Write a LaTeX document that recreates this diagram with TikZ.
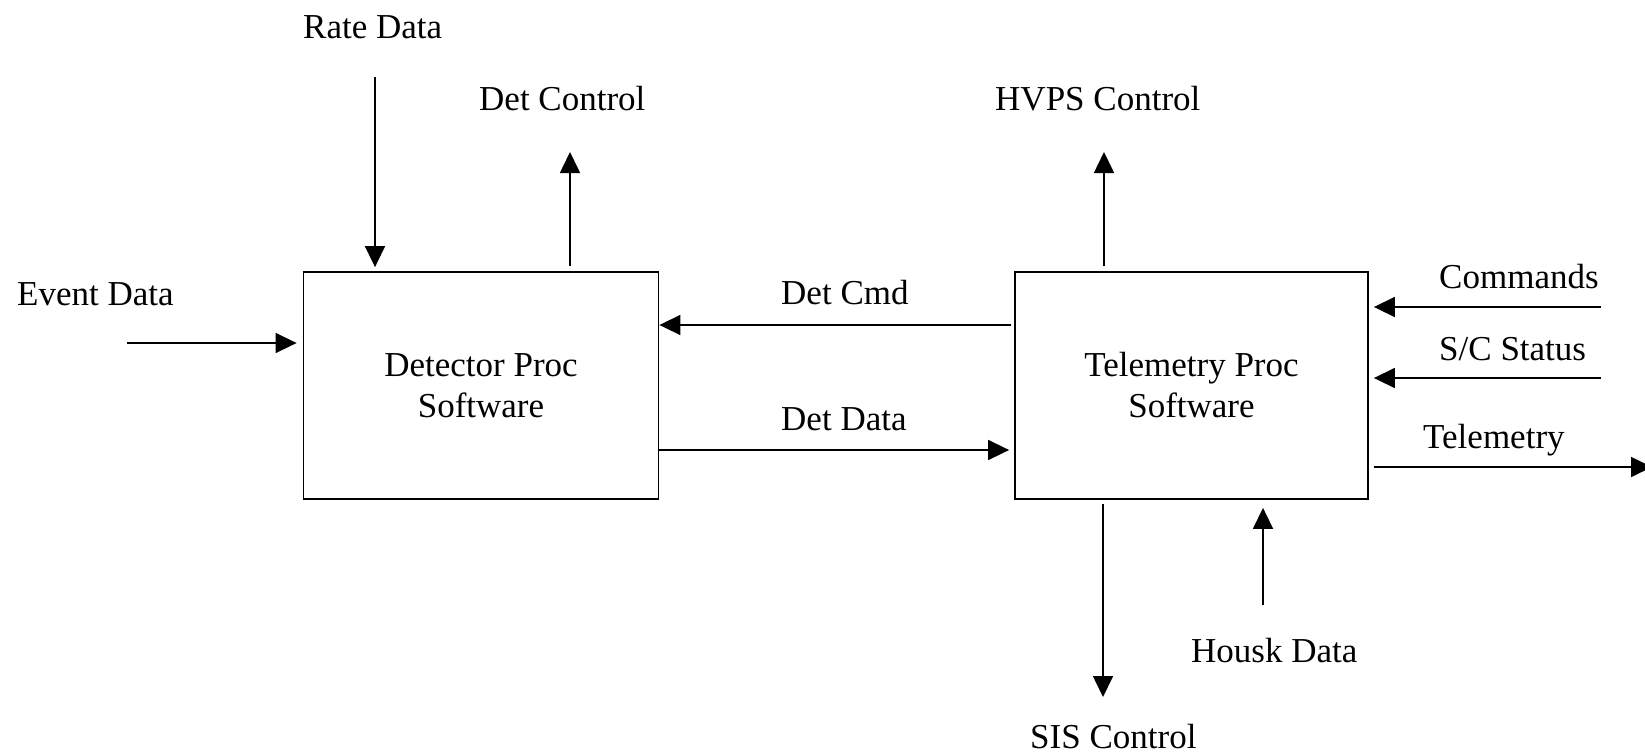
\documentclass[tikz,border=0pt]{standalone}
\usepackage{fontspec}
\setmainfont{Liberation Serif}
\usetikzlibrary{arrows.meta}
\begin{document}
\begin{tikzpicture}[x=1pt,y=-1pt,
  every node/.style={font=\fontsize{35}{41}\selectfont},
  lbl/.style={anchor=base west, inner sep=0pt},
  procbox/.style={draw, line width=1.8pt, minimum width=355pt, minimum height=227pt, inner sep=0pt, align=center},
  arr/.style={line width=1.6pt, -{Triangle[length=21pt,width=20pt]}}]
\useasboundingbox (0,0) rectangle (1645,753);
% boxes
\node[procbox] (b1) at (481,385.5) {Detector Proc\\Software};
\node[procbox, minimum width=353pt] (b2) at (1191.5,385.5) {Telemetry Proc\\Software};
% labels
\node[lbl] (lrate) at (303,38) {Rate Data};
\node[lbl] (ldetc) at (479,110) {Det Control};
\node[lbl] (levent) at (17,305) {Event Data};
\node[lbl] (lhvps) at (995,110) {HVPS Control};
\node[lbl] (lcmd) at (781,304) {Det Cmd};
\node[lbl] (ldata) at (781,430) {Det Data};
\node[lbl] (lcomm) at (1439,288) {Commands};
\node[lbl] (lsc) at (1439,360) {S/C Status};
\node[lbl] (ltel) at (1423,448) {Telemetry};
\node[lbl] (lhousk) at (1191,662) {Housk Data};
\node[lbl] (lsis) at (1030,748) {SIS Control};
% free ends
\coordinate (rateS) at (375,77);
\coordinate (detcE) at (570,152);
\coordinate (eventS) at (127,343);
\coordinate (hvpsE) at (1104,152);
\coordinate (commS) at (1601,307);
\coordinate (scS) at (1601,378);
\coordinate (telE) at (1652,467);
\coordinate (sisE) at (1103,697);
\coordinate (houskS) at (1263,605);
% connectors
\draw[arr, shorten >=4pt] (rateS) -- (rateS |- b1.north);
\draw[arr, shorten <=5pt] (detcE |- b1.north) -- (detcE);
\draw[arr, shorten >=6pt] (eventS) -- (eventS -| b1.west);
\draw[arr, shorten <=3pt] (b2.west |- 0,325) -- (b1.east |- 0,325);
\draw[arr, shorten >=5pt] (b1.east |- 0,450) -- (b2.west |- 0,450);
\draw[arr, shorten <=5pt] (hvpsE |- b2.north) -- (hvpsE);
\draw[arr, shorten >=5pt] (commS) -- (commS -| b2.east);
\draw[arr, shorten >=5pt] (scS) -- (scS -| b2.east);
\draw[arr, shorten <=5pt] (b2.east |- telE) -- (telE);
\draw[arr, shorten <=4pt] (sisE |- b2.south) -- (sisE);
\draw[arr, shorten >=8pt] (houskS) -- (houskS |- b2.south);
\end{tikzpicture}
\end{document}
